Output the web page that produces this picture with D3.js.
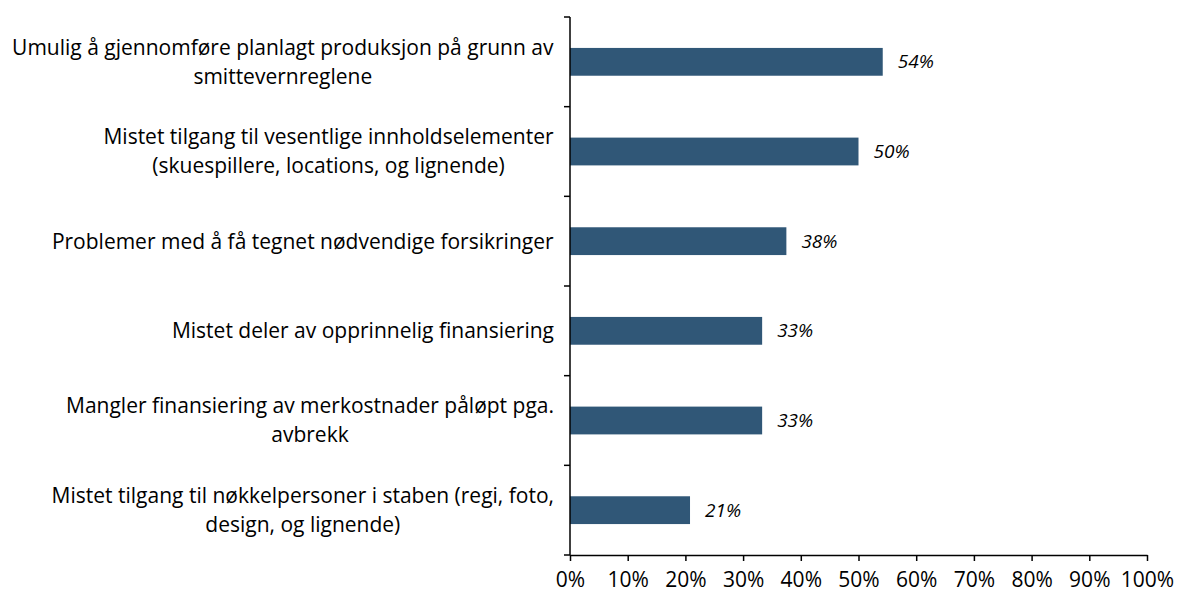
<!DOCTYPE html>
<html>
<head>
<meta charset="utf-8">
<script src="https://cdn.jsdelivr.net/npm/d3@7"></script>
<style>
  body { margin: 0; background: #fff; }
  text { font-family: "Open Sans", Lato, sans-serif; fill: #000; }
</style>
</head>
<body>
<script>
// categories, top to bottom (each entry = lines of the wrapped label)
var categories = [
  ["Umulig å gjennomføre planlagt produksjon på grunn av", "smittevernreglene"],
  ["Mistet tilgang til vesentlige innholdselementer", "(skuespillere, locations, og lignende)"],
  ["Problemer med å få tegnet nødvendige forsikringer"],
  ["Mistet deler av opprinnelig finansiering"],
  ["Mangler finansiering av merkostnader påløpt pga.", "avbrekk"],
  ["Mistet tilgang til nøkkelpersoner i staben (regi, foto,", "design, og lignende)"]
];
var values = [0.542, 0.50, 0.375, 0.333, 0.333, 0.208];
var ticks = [0, 0.1, 0.2, 0.3, 0.4, 0.5, 0.6, 0.7, 0.8, 0.9, 1.0];

var w = 1178, h = 594;
var margin = {top: 17, left: 570, right: 31, bottom: 39};

var svg = d3.select("body").append("svg")
    .attr("width", w)
    .attr("height", h);

var x = d3.scaleLinear().domain([0, 1]).range([margin.left, w - margin.right]);
var y = d3.scaleBand().domain(d3.range(categories.length))
    .range([margin.top, h - margin.bottom])
    .paddingInner(0.69).paddingOuter(0.345);
var yOuter = d3.scaleBand().domain(d3.range(categories.length))
    .range([margin.top, h - margin.bottom]);

// bars
svg.selectAll("rect.bar")
  .data(values)
  .enter().append("rect")
    .attr("class", "bar")
    .attr("x", x(0))
    .attr("y", function(d, i) { return y(i); })
    .attr("width", function(d) { return x(d) - x(0); })
    .attr("height", y.bandwidth())
    .attr("fill", "#305777");

// value labels
svg.selectAll("text.val")
  .data(values)
  .enter().append("text")
    .attr("class", "val")
    .attr("x", function(d) { return x(d) + 15; })
    .attr("y", function(d, i) { return y(i) + y.bandwidth() / 2; })
    .attr("dy", "0.35em")
    .style("font-size", "19px")
    .style("font-style", "italic")
    .text(function(d) { return Math.round(d * 100) + "%"; });

// category labels
var lineH = 29;
var lab = svg.selectAll("text.cat")
  .data(categories)
  .enter().append("text")
    .attr("class", "cat")
    .attr("text-anchor", "middle")
    .style("font-size", "21px");
lab.each(function(lines, i) {
  var cy = yOuter(i) + yOuter.bandwidth() / 2;
  var t = d3.select(this);
  lines.forEach(function(s, j) {
    t.append("tspan")
      .attr("x", 280)
      .attr("y", cy + (j - (lines.length - 1) / 2) * lineH)
      .attr("dy", "0.35em")
      .text(s);
  });
});
// right-align the block of each label to the axis
lab.each(function() {
  var bb = this.getBBox();
  var shift = (margin.left - 16) - (bb.x + bb.width);
  d3.select(this).selectAll("tspan").attr("x", 280 + shift);
});

// y axis with ticks between categories
var yAxis = svg.append("g");
yAxis.append("line")
  .attr("x1", x(0)).attr("x2", x(0))
  .attr("y1", margin.top).attr("y2", h - margin.bottom)
  .attr("stroke", "#000").attr("stroke-width", 1.5);
var bounds = d3.range(categories.length + 1).map(function(i) {
  return margin.top + i * yOuter.step();
});
yAxis.selectAll("line.tk")
  .data(bounds)
  .enter().append("line")
    .attr("class", "tk")
    .attr("x1", x(0) - 6).attr("x2", x(0))
    .attr("y1", function(d) { return d; })
    .attr("y2", function(d) { return d; })
    .attr("stroke", "#000").attr("stroke-width", 1.5);

// x axis
var xAxis = d3.axisBottom(x)
    .tickValues(ticks)
    .tickFormat(d3.format(".0%"))
    .tickSizeInner(6)
    .tickSizeOuter(0)
    .tickPadding(11);
var gx = svg.append("g")
    .attr("transform", "translate(0," + (h - margin.bottom) + ")")
    .call(xAxis);
gx.select(".domain").attr("stroke", "#000").attr("stroke-width", 1.5);
gx.selectAll(".tick line").attr("stroke", "#000").attr("stroke-width", 1.5);
gx.selectAll(".tick text")
    .style("font-size", "21px")
    .style("font-family", "'Open Sans', Lato, sans-serif")
    .attr("fill", "#000");
</script>
</body>
</html>
